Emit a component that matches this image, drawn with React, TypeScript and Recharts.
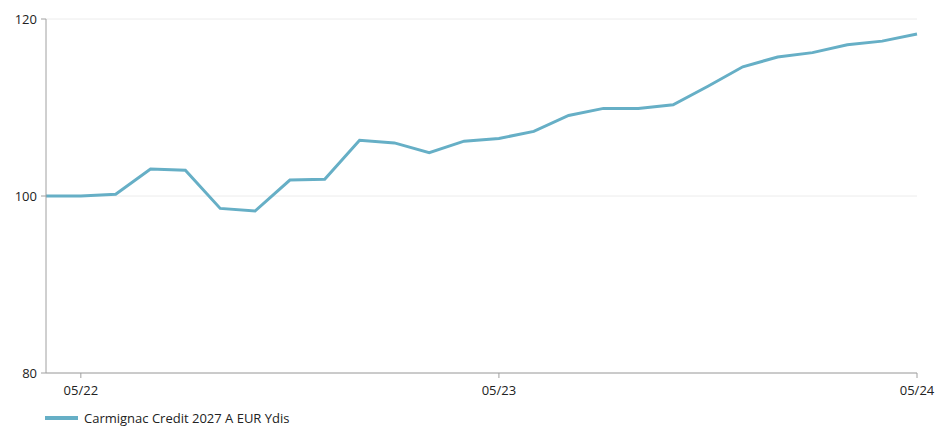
import React from "react";
import { LineChart, Line, XAxis, YAxis, CartesianGrid } from "recharts";

const months = [
  "04/22", "05/22", "06/22", "07/22", "08/22", "09/22", "10/22", "11/22", "12/22",
  "01/23", "02/23", "03/23", "04/23", "05/23", "06/23", "07/23", "08/23", "09/23",
  "10/23", "11/23", "12/23", "01/24", "02/24", "03/24", "04/24", "05/24",
];

const fundValues = [
  100, 100, 100.2, 103.05, 102.9, 98.6, 98.3, 101.8, 101.9,
  106.3, 106.0, 104.9, 106.2, 106.5, 107.3, 109.1, 109.9, 109.9,
  110.3, 112.4, 114.6, 115.7, 116.2, 117.1, 117.5, 118.3,
];

const xTickLabels = ["05/22", "05/23", "05/24"];
const yTicks = [80, 100, 120];

const seriesName = "Carmignac Credit 2027 A EUR Ydis";
const lineColor = "#66AFC6";

const data = months.map((m, i) => ({ idx: i, month: m, value: fundValues[i] }));
const xTicks = xTickLabels.map((l) => months.indexOf(l));

const font = "'Open Sans', sans-serif";

export default function App() {
  return (
    <div style={{ position: "absolute", left: 0, top: 0, width: 935, height: 426, background: "#fff" }}>
      <LineChart width={935} height={426} data={data} margin={{ top: 19, right: 18, bottom: 23, left: 6 }}>
        <CartesianGrid vertical={false} stroke="#ececec" />
        <XAxis
          dataKey="idx"
          type="number"
          domain={[0, months.length - 1]}
          ticks={xTicks}
          tickFormatter={(v: number) => months[v]}
          stroke="#a0a0a0"
          tickSize={5}
          tick={{ fill: "#222", fontSize: 13, fontFamily: font }}
          tickMargin={8}
          height={30}
        />
        <YAxis
          domain={[80, 120]}
          ticks={yTicks}
          stroke="#a0a0a0"
          tickSize={5}
          tickMargin={4}
          width={40}
          tick={{ fill: "#222", fontSize: 13, fontFamily: font }}
        />
        <Line
          type="linear"
          dataKey="value"
          name={seriesName}
          stroke={lineColor}
          strokeWidth={3}
          dot={false}
          activeDot={false}
          isAnimationActive={false}
        />
      </LineChart>
      <div
        style={{
          position: "absolute",
          left: 45,
          top: 409,
          display: "flex",
          alignItems: "center",
          fontFamily: font,
          fontSize: 13,
          color: "#222",
          whiteSpace: "nowrap",
        }}
      >
        <span style={{ display: "inline-block", width: 33, height: 4, background: lineColor, marginRight: 6 }} />
        <span>{seriesName}</span>
      </div>
    </div>
  );
}
